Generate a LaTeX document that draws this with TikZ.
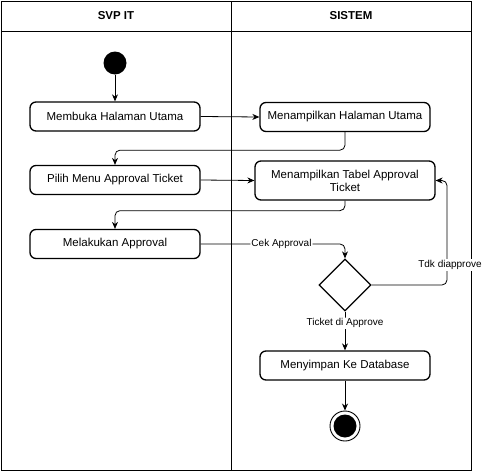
\documentclass[tikz,border=0pt]{standalone}
\usepackage{fontspec}
\setmainfont{Liberation Sans}
\usetikzlibrary{arrows.meta,shapes.geometric,calc}
\begin{document}
\begin{tikzpicture}[x=1pt,y=-1pt,
  font=\fontsize{11.5}{13}\selectfont,
  act/.style={draw, rounded corners=6pt, line width=1.3pt, minimum width=170pt, minimum height=29pt, inner sep=1pt, align=center},
  conn/.style={draw, line width=0.8pt, rounded corners=5pt, -{Stealth[length=7pt,width=6pt]}},
  lbl/.style={fill=white, inner sep=1pt, font=\fontsize{10}{12}\selectfont},
  lane/.style={line width=0.8pt},
  hdr/.style={font=\fontsize{11.5}{13}\selectfont\bfseries}
]
\useasboundingbox (0,0) rectangle (485,471);
% swimlanes
\draw[lane] (1.5,1.5) rectangle (471,470);
\draw[lane] (1.5,31) -- (471,31);
\draw[lane] (231,1.5) -- (231,470);
\node[hdr] (h1) at (116,16) {SVP IT};
\node[hdr] (h2) at (351,16) {SISTEM};
% nodes
\node[circle, fill=black, minimum size=23pt, inner sep=0] (s) at (115,63) {};
\node[act] (b1) at (115,116.5) {Membuka Halaman Utama};
\node[act] (b2) at (345,117) {Menampilkan Halaman Utama};
\node[act] (b3) at (115,180) {Pilih Menu Approval Ticket};
\node[act, minimum width=180pt, minimum height=39pt] (b4) at (345,180.5) {Menampilkan Tabel Approval\\Ticket};
\node[act] (b5) at (115,244) {Melakukan Approval};
\node[diamond, draw, line width=1.3pt, minimum width=52pt, minimum height=52pt, inner sep=0] (d) at (345,285) {};
\node[act] (b6) at (345,365.5) {Menyimpan Ke Database};
\node[circle, draw, line width=0.9pt, minimum size=30pt, inner sep=0,
  path picture={\fill[black] (path picture bounding box.center) circle (11.5pt);}] (e) at (345,426) {};
% connectors
\draw[conn] (s) -- (b1.north);
\draw[conn] (b1.east) -- (b2.west);
\draw[conn] (b2.south) -- ++(0,18) -| (b3.north);
\draw[conn] (b3.east) -- (b4.west);
\draw[conn] (b4.south) -- ++(0,10) -| (b5.north);
\draw[conn] (b5.east) -| node[lbl, pos=0.28] {Cek Approval} (d.north);
\coordinate (c1) at (447,180.5);
\draw[conn] (d.east) -| (c1) -- (b4.east);
\node[lbl] (l2) at (450,265) {Tdk diapprove};
\draw[conn] (d.south) -- node[lbl, pos=0.3] {Ticket di Approve} (b6.north);
\draw[conn] (b6.south) -- (e.north);
\end{tikzpicture}
\end{document}
